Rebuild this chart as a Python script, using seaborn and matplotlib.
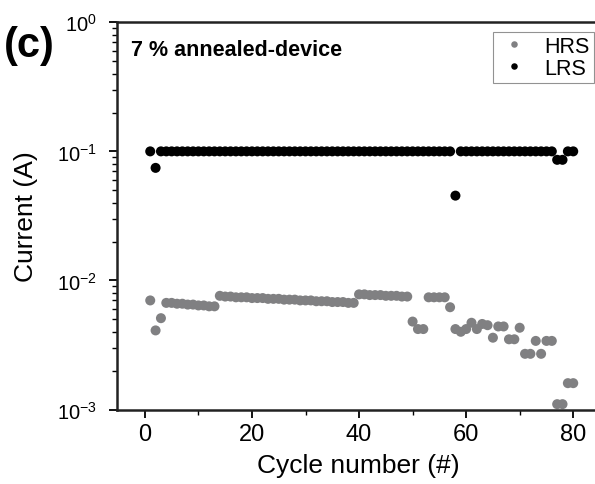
import numpy as np
import pandas as pd
import matplotlib
matplotlib.use("Agg")
import matplotlib.pyplot as plt
import matplotlib.ticker as mticker
import seaborn as sns

# datos (corriente en A por ciclo)
ciclos = list(range(1, 81))

hrs = [0.0070, 0.0041, 0.0051,
       0.0067, 0.0067, 0.0066, 0.0066, 0.0065, 0.0065, 0.0064, 0.0064, 0.0063, 0.0063,
       0.0076, 0.0075, 0.0075, 0.0074, 0.0074, 0.0074, 0.0073, 0.0073, 0.0073, 0.0072,
       0.0072, 0.0072, 0.0071, 0.0071, 0.0071, 0.0070, 0.0070, 0.0070, 0.0069, 0.0069,
       0.0069, 0.0068, 0.0068, 0.0068, 0.0067, 0.0067,
       0.0078, 0.0078, 0.0077, 0.0077, 0.0077, 0.0076, 0.0076, 0.0076, 0.0075, 0.0075,
       0.0048, 0.0042, 0.0042,
       0.0074, 0.0074, 0.0074, 0.0074,
       0.0062, 0.0042, 0.0040, 0.0042, 0.0047, 0.0042, 0.0046, 0.0045, 0.0036,
       0.0044, 0.0044, 0.0035, 0.0035, 0.0043, 0.0027, 0.0027, 0.0034, 0.0027,
       0.0034, 0.0034, 0.0011, 0.0011, 0.0016, 0.0016]

lrs = [0.100, 0.0745, 0.100, 0.100, 0.100, 0.100, 0.100, 0.100, 0.100, 0.100,
       0.100, 0.100, 0.100, 0.100, 0.100, 0.100, 0.100, 0.100, 0.100, 0.100,
       0.100, 0.100, 0.100, 0.100, 0.100, 0.100, 0.100, 0.100, 0.100, 0.100,
       0.100, 0.100, 0.100, 0.100, 0.100, 0.100, 0.100, 0.100, 0.100, 0.100,
       0.100, 0.100, 0.100, 0.100, 0.100, 0.100, 0.100, 0.100, 0.100, 0.100,
       0.100, 0.100, 0.100, 0.100, 0.100, 0.100, 0.100, 0.0454, 0.100, 0.100,
       0.100, 0.100, 0.100, 0.100, 0.100, 0.100, 0.100, 0.100, 0.100, 0.100,
       0.100, 0.100, 0.100, 0.100, 0.100, 0.100, 0.086, 0.086, 0.100, 0.100]

estados = ["HRS", "LRS"]
colores = {"HRS": "#808082", "LRS": "#000000"}

df = pd.DataFrame({
    "ciclo": ciclos + ciclos,
    "corriente": hrs + lrs,
    "estado": ["HRS"] * len(hrs) + ["LRS"] * len(lrs),
})

"""
GRAFICO
"""
sns.set_style("ticks")
plt.rcParams['font.family'] = ['Liberation Sans', 'DejaVu Sans']
plt.rcParams['mathtext.default'] = 'regular'
plt.rcParams['text.color'] = 'black'
plt.rcParams['axes.labelcolor'] = 'black'
plt.rcParams['xtick.color'] = 'black'
plt.rcParams['ytick.color'] = 'black'

fig = plt.figure(figsize=(5.95, 4.85), dpi=100)
ax = fig.add_axes([116.5 / 595, 1 - 410.5 / 485, (600 - 116.5) / 595, (410.5 - 23.3) / 485])

sns.scatterplot(data=df, x="ciclo", y="corriente", hue="estado", hue_order=estados,
                palette=colores, s=52, linewidth=0, ax=ax, legend=True)

ax.set_yscale('log')
ax.set_ylim(1e-3, 1)
ax.set_xlim(-5.3, 85)
ax.set_xticks([0, 20, 40, 60, 80])
ax.xaxis.set_minor_locator(mticker.MultipleLocator(10))
ax.yaxis.set_major_locator(mticker.LogLocator(base=10, numticks=10))
ax.yaxis.set_minor_locator(mticker.LogLocator(base=10, subs=np.arange(2, 10), numticks=20))
ax.yaxis.set_minor_formatter(mticker.NullFormatter())

ax.set_xlabel('Cycle number (#)', fontsize=19, labelpad=6)
ax.set_ylabel('Current (A)', fontsize=19, labelpad=14)
ax.tick_params(axis='x', which='major', labelsize=17, length=6, width=1.3, direction='out')
ax.tick_params(axis='y', which='major', labelsize=14.5, length=6, width=1.3, direction='out', pad=8)
ax.tick_params(axis='both', which='minor', length=3.5, width=1.0, direction='out')

for lado in ['left', 'bottom', 'top']:
    ax.spines[lado].set_linewidth(1.8)
    ax.spines[lado].set_color('#222222')
ax.spines['right'].set_visible(False)

# leyenda
leg = ax.legend(loc='upper right', bbox_to_anchor=((594 - 116.5) / (600 - 116.5), 0.976),
                fontsize=15.5, frameon=True, fancybox=False, edgecolor='#777777',
                handletextpad=0.6, borderpad=0.2, labelspacing=0.05, markerscale=0.65,
                handlelength=1.6, borderaxespad=0)
leg.get_frame().set_linewidth(0.8)
leg.legend_handles[0].set_color('#a0a0a0')

ax.text(0.029, 0.93, '7 % annealed-device', transform=ax.transAxes, fontsize=15.5,
        fontweight='bold', va='center', ha='left')
fig.text(0.006, 0.905, '(c)', fontsize=30, fontweight='bold', va='center', ha='left')

plt.savefig('out.png', dpi=100)
